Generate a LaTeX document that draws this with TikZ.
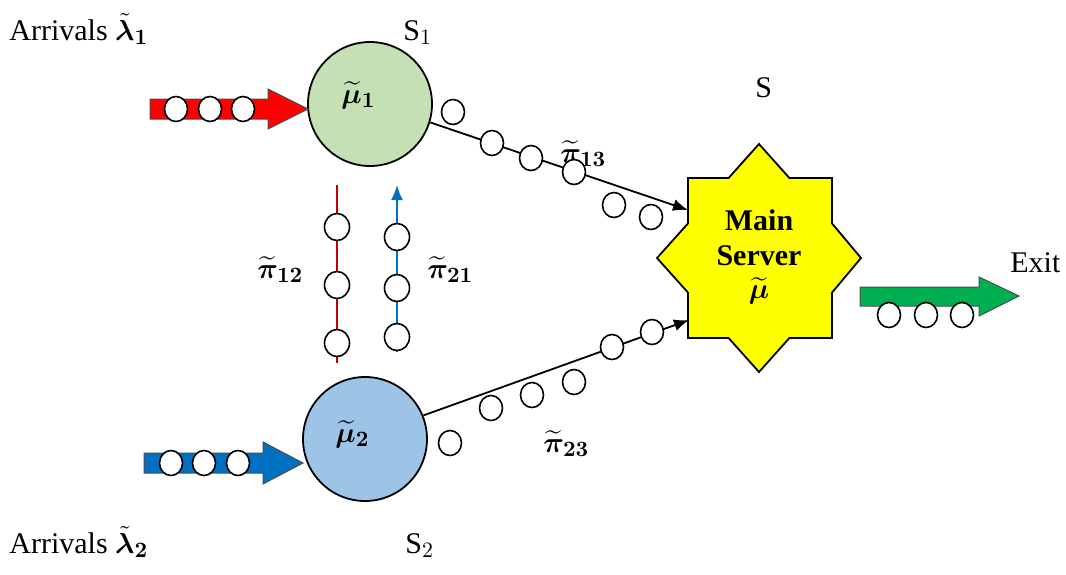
\documentclass[tikz,border=0pt]{standalone}
\usepackage{fontspec}
\setmainfont{Liberation Serif}
\usepackage{amsmath}
\usepackage{bm}
\usetikzlibrary{arrows.meta,shapes.geometric}

\definecolor{sonegreen}{HTML}{C5E0B4}
\definecolor{stwoblue}{HTML}{9DC3E6}
\definecolor{arrred}{HTML}{FF0000}
\definecolor{arrblue}{HTML}{0070C0}
\definecolor{arrgreen}{HTML}{00B050}
\definecolor{linered}{HTML}{C00000}
\definecolor{lineblue}{HTML}{0070C0}
\definecolor{srvyellow}{HTML}{FFFF00}

\begin{document}
\begin{tikzpicture}[x=0.5pt,y=-0.5pt,
  dot/.style={draw, fill=white, ellipse, minimum width=11.5pt, minimum height=12.5pt, inner sep=0pt, line width=0.8pt},
  station/.style={circle, draw, line width=0.9pt, minimum size=62pt, inner sep=0pt},
  lbl/.style={font=\fontsize{15}{18}\selectfont, inner sep=0pt, anchor=base west},
  flow/.style={line width=0.9pt, -{Latex[length=7.5pt,width=6pt]}},
  fatarrow/.style={draw=black!70, line width=0.5pt},
]
\useasboundingbox (0,0) rectangle (1066,574);

% stations
\node[station, fill=sonegreen] (s1) at (370,104) {};
\node[station, fill=stwoblue] (s2) at (365,439) {};

% main server: eight-pointed star
\draw[fill=srvyellow, line width=0.9pt]
  (759,144) -- (789.4,178) -- (832,178) -- (832,223.4) -- (861,258)
  -- (832,292.6) -- (832,338) -- (789.4,338) -- (759,372) -- (728.6,338)
  -- (688,338) -- (688,292.6) -- (657,258) -- (688,223.4) -- (688,178)
  -- (728.6,178) -- cycle;
\node[font=\fontsize{15}{17.5}\selectfont\bfseries, align=center, inner sep=0pt] (main) at (759,257)
  {Main\\Server\\[-1pt]$\widetilde{\bm{\mu}}$};
\coordinate (m1) at (688,210);
\coordinate (m2) at (689,320);

% labels
\node[lbl] (arr1) at (9,40) {Arrivals $\bm{\tilde{\lambda}}_{\bm{1}}$};
\node[lbl] (arr2) at (9,553) {Arrivals $\bm{\tilde{\lambda}}_{\bm{2}}$};
\node[lbl] (ls1) at (403,40) {S$_1$};
\node[lbl] (ls2) at (405,553) {S$_2$};
\node[lbl] (ls) at (755,97) {S};
\node[lbl] (lexit) at (1010,272) {Exit};
\node[lbl] (mu1) at (341,103) {$\widetilde{\bm{\mu}}_{\bm{1}}$};
\node[lbl] (mu2) at (335,442) {$\widetilde{\bm{\mu}}_{\bm{2}}$};
\node[lbl] (p13) at (560,162) {$\widetilde{\bm{\pi}}_{\bm{13}}$};
\node[lbl] (p12) at (257,278) {$\widetilde{\bm{\pi}}_{\bm{12}}$};
\node[lbl] (p21) at (427,278) {$\widetilde{\bm{\pi}}_{\bm{21}}$};
\node[lbl] (p23) at (543,452) {$\widetilde{\bm{\pi}}_{\bm{23}}$};

% fat arrivals / exit arrows
\draw[fatarrow, fill=arrred] (150,99) -- (268,99) -- (268,89) -- (308,109)
  -- (268,129) -- (268,119) -- (150,119) -- cycle;
\draw[fatarrow, fill=arrblue] (144,453) -- (263,453) -- (263,442) -- (303,463)
  -- (263,484) -- (263,473) -- (144,473) -- cycle;
\draw[fatarrow, fill=arrgreen] (860,287) -- (979,287) -- (979,277) -- (1019,296)
  -- (979,316) -- (979,306) -- (860,306) -- cycle;

\foreach \x [count=\i] in {176,210,243} \node[dot] (a1\i) at (\x,109) {};
\foreach \x [count=\i] in {171,204,238} \node[dot] (a2\i) at (\x,463) {};
\foreach \x [count=\i] in {889,926,962} \node[dot] (ex\i) at (\x,315) {};

% routes to the main server
\draw[flow] (s1.-17) -- (m1);
\draw[flow] (s2.22) -- (m2);
\node[dot] (c13a) at (453,112) {};
\node[dot] (c13b) at (492,143) {};
\node[dot] (c13c) at (531,158) {};
\node[dot] (c13d) at (574,172) {};
\node[dot] (c13e) at (614,205) {};
\node[dot] (c13f) at (651,217) {};
\node[dot] (c23a) at (450,443) {};
\node[dot] (c23b) at (491,408) {};
\node[dot] (c23c) at (532,395) {};
\node[dot] (c23d) at (574,382) {};
\node[dot] (c23e) at (612,347) {};
\node[dot] (c23f) at (652,332) {};

% transfers between the two stations
\coordinate (r1) at (337,185);
\coordinate (r2) at (337,363);
\coordinate (b1) at (397,352);
\coordinate (b2) at (397,185);
\draw[linered, line width=0.9pt] (r1) -- (r2);
\draw[lineblue, line width=0.9pt, -{Latex[length=7.5pt,width=6pt]}] (b1) -- (b2);
\foreach \y [count=\i] in {227,285,343} \node[dot, minimum width=12.5pt, minimum height=13.5pt] (r\i c) at (337,\y) {};
\foreach \y [count=\i] in {237,288,337} \node[dot, minimum width=12.5pt, minimum height=13.5pt] (b\i c) at (397,\y) {};
\end{tikzpicture}
\end{document}
